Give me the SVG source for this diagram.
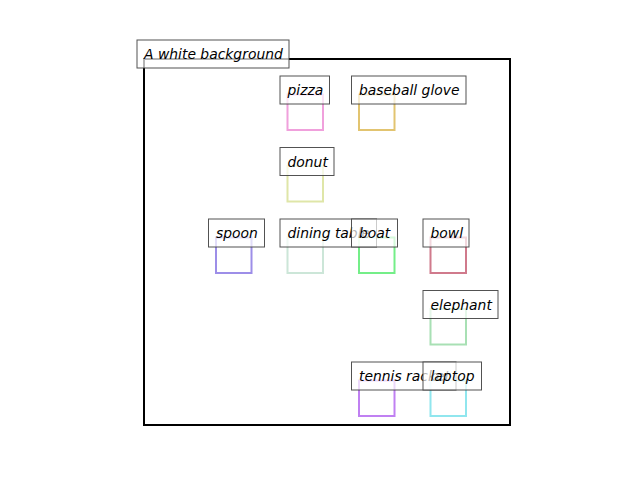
<svg xmlns="http://www.w3.org/2000/svg" width="640" height="480" viewBox="0 0 640 480">
<style>
.b{fill:none;stroke-width:2}
.l rect{fill:#fff;fill-opacity:0.7;stroke:#3f3f3f;stroke-opacity:0.9;stroke-width:1}
.l text{font-family:"DejaVu Sans",sans-serif;font-style:italic;font-size:13.9px;fill:#000}
</style>
<rect width="640" height="480" fill="#fff"/>
<rect x="144" y="59" width="366" height="366" fill="none" stroke="#000" stroke-width="2"/>
<g id="boxes">
<rect id="box-pizza" class="b" x="287.5" y="94.5" width="35.5" height="35.5" stroke="#f0a0dc"/>
<rect id="box-baseball-glove" class="b" x="359" y="94.5" width="35.5" height="35.5" stroke="#e2c470"/>
<rect id="box-donut" class="b" x="287.5" y="166" width="35.5" height="35.5" stroke="#dfe6a8"/>
<rect id="box-spoon" class="b" x="216" y="237.5" width="35.5" height="35.5" stroke="#9d8ee8"/>
<rect id="box-dining-table" class="b" x="287.5" y="237.5" width="35.5" height="35.5" stroke="#cce6d8"/>
<rect id="box-boat" class="b" x="359" y="237.5" width="35.5" height="35.5" stroke="#74ee88"/>
<rect id="box-bowl" class="b" x="430.5" y="237.5" width="35.5" height="35.5" stroke="#d07a8c"/>
<rect id="box-elephant" class="b" x="430.5" y="309" width="35.5" height="35.5" stroke="#a8e0b4"/>
<rect id="box-tennis-racket" class="b" x="359" y="380.5" width="35.5" height="35.5" stroke="#c080f2"/>
<rect id="box-laptop" class="b" x="430.5" y="380.5" width="35.5" height="35.5" stroke="#90e6ee"/>
</g>
<g id="label-bg" class="l"><rect x="137" y="40" width="152" height="28"/><text x="144" y="59">A white background</text></g>
<g id="label-pizza" class="l"><rect x="280" y="76" width="49.5" height="28"/><text x="287.5" y="95">pizza</text></g>
<g id="label-baseball-glove" class="l"><rect x="351.5" y="76" width="114.5" height="28"/><text x="359" y="95">baseball glove</text></g>
<g id="label-donut" class="l"><rect x="280" y="147.5" width="54" height="28"/><text x="287.5" y="166.5">donut</text></g>
<g id="label-spoon" class="l"><rect x="208.5" y="219" width="56" height="28"/><text x="216" y="238">spoon</text></g>
<g id="label-dining-table" class="l"><rect x="280" y="219" width="96.5" height="28"/><text x="287.5" y="238">dining table</text></g>
<g id="label-boat" class="l"><rect x="351.5" y="219" width="46" height="28"/><text x="359" y="238">boat</text></g>
<g id="label-bowl" class="l"><rect x="423" y="219" width="46" height="28"/><text x="430.5" y="238">bowl</text></g>
<g id="label-elephant" class="l"><rect x="423" y="290.5" width="75" height="28"/><text x="430.5" y="309.5">elephant</text></g>
<g id="label-tennis-racket" class="l"><rect x="351.5" y="362" width="104.5" height="28"/><text x="359" y="381">tennis racket</text></g>
<g id="label-laptop" class="l"><rect x="423" y="362" width="58.5" height="28"/><text x="430.5" y="381">laptop</text></g>
</svg>
